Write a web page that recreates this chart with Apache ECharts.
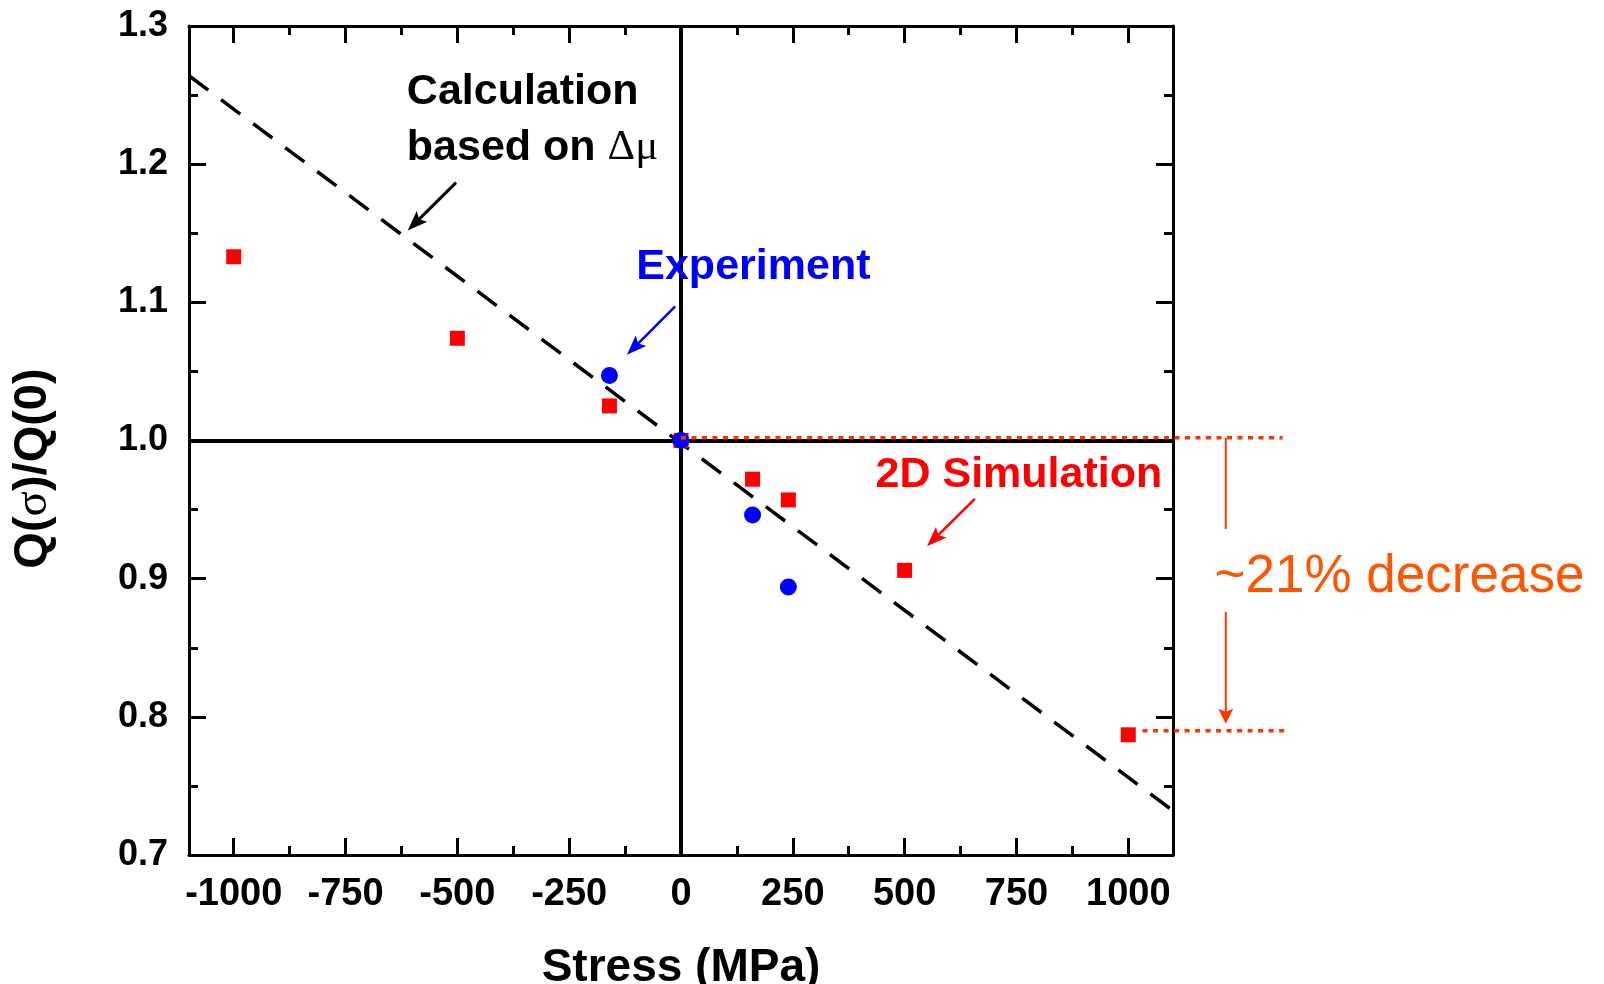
<!DOCTYPE html>
<html>
<head>
<meta charset="utf-8">
<script src="https://cdn.jsdelivr.net/npm/echarts@6/dist/echarts.min.js"></script>
<style>
html, body { margin: 0; padding: 0; background: #fff; }
#chart { width: 1604px; height: 984px; }
</style>
</head>
<body>
<div id="chart"></div>
<script>
// axis ticks
var stressTicks = [-1000, -750, -500, -250, 0, 250, 500, 750, 1000];
var stressMinorTicks = [-875, -625, -375, -125, 125, 375, 625, 875];
var ratioTicks = [0.7, 0.8, 0.9, 1.0, 1.1, 1.2, 1.3];
var ratioMinorTicks = [0.75, 0.85, 0.95, 1.05, 1.15, 1.25];

// 2D simulation (red squares)
var simStress = [-1000, -500, -160, 0, 160, 240, 500, 1000];
var simRatio = [1.133, 1.074, 1.025, 1.0, 0.972, 0.957, 0.906, 0.787];
// experiment (blue circles)
var expStress = [-160, 0, 160, 240];
var expRatio = [1.047, 1.0, 0.946, 0.894];
// calculation based on delta mu (dashed line)
var calcStress = [-1100, 1100];
var calcRatio = [1.264, 0.732];

var FONT = "'Liberation Sans', Arial, sans-serif";

function pairs(xs, ys) {
	var out = [];
	for (var i = 0; i < xs.length; i++) out.push([xs[i], ys[i]]);
	return out;
}

function xAx(pos, ticks, len, main) {
	return {
		type: 'value', gridIndex: 0, position: pos, min: -1100, max: 1100,
		axisLine: { show: main, onZero: false, lineStyle: { color: '#000', width: 3 } },
		axisTick: { show: true, inside: true, length: len, customValues: ticks, lineStyle: { color: '#000', width: 3 } },
		axisLabel: {
			show: main && pos === 'bottom', customValues: ticks, margin: 21,
			fontSize: 38, fontWeight: 'bold', color: '#000', fontFamily: FONT,
			formatter: function (v) { return String(v); }
		},
		splitLine: { show: false }
	};
}

function yAx(pos, ticks, len, main) {
	return {
		type: 'value', gridIndex: 0, position: pos, min: 0.7, max: 1.3,
		axisLine: { show: main, onZero: false, lineStyle: { color: '#000', width: 3 } },
		axisTick: { show: true, inside: true, length: len, customValues: ticks, lineStyle: { color: '#000', width: 3 } },
		axisLabel: {
			show: main && pos === 'left', customValues: ticks, margin: 21,
			fontSize: 36, fontWeight: 'bold', color: '#000', fontFamily: FONT,
			formatter: function (v) { return v.toFixed(1); }
		},
		splitLine: { show: false }
	};
}

var chart = echarts.init(document.getElementById('chart'));

var xAxes = [
	xAx('bottom', stressTicks, 17, true),
	xAx('bottom', stressMinorTicks, 9, false),
	xAx('top', stressTicks, 17, true),
	xAx('top', stressMinorTicks, 9, false)
];
xAxes[0].name = 'Stress (MPa)';
xAxes[0].nameLocation = 'middle';
xAxes[0].nameGap = 90;
xAxes[0].nameTextStyle = { fontSize: 46, fontWeight: 'bold', color: '#000', fontFamily: FONT };

var yAxes = [
	yAx('left', ratioTicks, 17, true),
	yAx('left', ratioMinorTicks, 9, false),
	yAx('right', ratioTicks, 17, true),
	yAx('right', ratioMinorTicks, 9, false)
];
yAxes[0].name = '{b|Q(}{s|σ}{b|)/Q(0)}';
yAxes[0].nameLocation = 'middle';
yAxes[0].nameRotate = 90;
yAxes[0].nameGap = 132;
yAxes[0].nameTextStyle = {
	padding: [0, 56, 0, 0],
	rich: {
		b: { fontSize: 47, fontWeight: 'bold', color: '#000', fontFamily: FONT },
		s: { fontSize: 47, fontWeight: 'normal', color: '#000', fontFamily: "'Liberation Serif', serif" }
	}
};

var option = {
	backgroundColor: '#fff',
	animation: false,
	grid: { left: 189, right: 431, top: 26, bottom: 129, containLabel: false, outerBoundsMode: 'none' },
	xAxis: xAxes,
	yAxis: yAxes,
	series: [
		{
			name: 'Calculation',
			type: 'line',
			data: pairs(calcStress, calcRatio),
			symbol: 'none',
			lineStyle: { color: '#000', width: 3.5, type: [24, 16] },
			z: 2,
			markLine: {
				silent: true,
				symbol: 'none',
				label: { show: false },
				lineStyle: { color: '#000', width: 4, type: 'solid' },
				emphasis: { disabled: true },
				data: [{ xAxis: 0 }, { yAxis: 1 }]
			}
		},
		{
			name: '2D Simulation',
			type: 'scatter',
			data: pairs(simStress, simRatio),
			symbol: 'rect',
			symbolSize: 15,
			itemStyle: { color: '#ff0000', opacity: 1 },
			z: 4
		},
		{
			name: 'Experiment',
			type: 'scatter',
			data: pairs(expStress, expRatio),
			symbol: 'circle',
			symbolSize: 17,
			itemStyle: { color: '#0000ff', opacity: 1 },
			z: 5
		}
	]
};
chart.setOption(option);

// annotations, placed in data units through the chart's own scales
function P(x, y) {
	return chart.convertToPixel({ xAxisIndex: 0, yAxisIndex: 0 }, [x, y]);
}
function seg(a, b, color, w, dash) {
	var p = P(a[0], a[1]), q = P(b[0], b[1]);
	return {
		type: 'line', silent: true, z: 10,
		shape: { x1: p[0], y1: p[1], x2: q[0], y2: q[1] },
		style: { stroke: color, lineWidth: w, lineDash: dash || null }
	};
}
function head(a, b, color, len, half) {
	var p = P(a[0], a[1]), q = P(b[0], b[1]);
	var dx = q[0] - p[0], dy = q[1] - p[1];
	var d = Math.sqrt(dx * dx + dy * dy);
	var ux = dx / d, uy = dy / d;
	var bx = q[0] - ux * len, by = q[1] - uy * len;
	var nx = q[0] - ux * len * 0.8, ny = q[1] - uy * len * 0.8;
	return {
		type: 'polygon', silent: true, z: 10,
		shape: { points: [[q[0], q[1]], [bx - uy * half, by + ux * half], [nx, ny], [bx + uy * half, by - ux * half]] },
		style: { fill: color }
	};
}
function arrow(a, b, color, w, len, half) {
	var p = P(a[0], a[1]), q = P(b[0], b[1]);
	var dx = q[0] - p[0], dy = q[1] - p[1];
	var d = Math.sqrt(dx * dx + dy * dy);
	var k = (d - len * 0.7) / d;
	var end = chart.convertFromPixel({ xAxisIndex: 0, yAxisIndex: 0 }, [p[0] + dx * k, p[1] + dy * k]);
	return [seg(a, end, color, w), head(a, b, color, len, half)];
}
function label(x, y, text, size, weight, color, rich) {
	var p = P(x, y);
	var st = { text: text, fontSize: size, fontWeight: weight, fontFamily: FONT, fill: color, align: 'left', verticalAlign: 'middle' };
	if (rich) st.rich = rich;
	return { type: 'text', silent: true, z: 11, x: p[0], y: p[1], style: st };
}

var orange = '#ff3300';
var g = [];
g.push(label(-613, 1.2523, 'Calculation', 43, 'bold', '#000'));
g.push(label(-613, 1.2118, '{a|based on }{b|Δμ}', 43, 'bold', '#000', {
	a: { fontSize: 43, fontWeight: 'bold', fontFamily: FONT, fill: '#000' },
	b: { fontSize: 43, fontWeight: 'normal', fontFamily: "'Liberation Serif', serif", fill: '#000' }
}));
g = g.concat(arrow([-503, 1.1866], [-611, 1.152], '#000', 3, 20, 7.5));
g.push(label(-100, 1.1258, 'Experiment', 43, 'bold', '#0000ff'));
g = g.concat(arrow([-13, 1.097], [-121, 1.062], '#0000ff', 2.5, 20, 7.5));
g.push(label(435, 0.9746, '2D Simulation', 43, 'bold', '#ff0000'));
g = g.concat(arrow([657, 0.9578], [550, 0.9234], '#ff0000', 2.5, 20, 7.5));
// dotted guides and the span arrow
g.push(seg([0, 1.002], [1345, 1.002], orange, 3.5, [5, 5.5]));
g.push(seg([1032, 0.790], [1354, 0.790], orange, 3.5, [5, 5.5]));
g.push(seg([1218, 1.002], [1218, 0.936], orange, 2));
g = g.concat(arrow([1218, 0.876], [1218, 0.795], orange, 2, 15, 7.5));
g.push(label(1193, 0.901, '~21% decrease', 53, 'normal', '#ff5500'));

chart.setOption({ graphic: g });
</script>
</body>
</html>
